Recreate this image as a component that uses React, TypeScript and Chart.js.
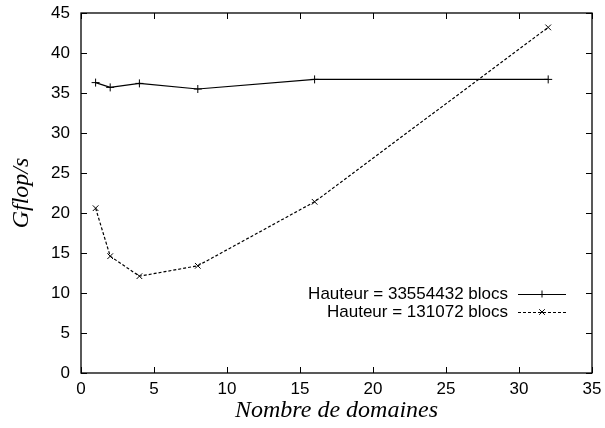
import React, { useEffect, useRef } from "react";
import { Chart, registerables } from "chart.js";

Chart.register(...registerables);

const domaines = [1, 2, 4, 8, 16, 32];
const hauteurGrande = [36.3, 35.7, 36.2, 35.5, 36.7, 36.7];
const hauteurPetite = [20.6, 14.6, 12.1, 13.4, 21.4, 43.2];
const labelGrande = "Hauteur = 33554432 blocs";
const labelPetite = "Hauteur = 131072 blocs";
const xTicks = [0, 5, 10, 15, 20, 25, 30, 35];
const yTicks = [0, 5, 10, 15, 20, 25, 30, 35, 40, 45];

const frame = {
  id: "frame",
  afterDatasetsDraw(chart: any) {
    const { ctx, chartArea: a, scales } = chart;
    ctx.save();
    ctx.strokeStyle = "#000";
    ctx.lineWidth = 1;
    ctx.setLineDash([]);
    ctx.beginPath();
    const L = 6;
    for (const v of xTicks) {
      const x = Math.round(scales.x.getPixelForValue(v)) + 0.5;
      ctx.moveTo(x, a.bottom);
      ctx.lineTo(x, a.bottom - L);
      ctx.moveTo(x, a.top);
      ctx.lineTo(x, a.top + L);
    }
    for (const v of yTicks) {
      const y = Math.round(scales.y.getPixelForValue(v)) + 0.5;
      ctx.moveTo(a.left, y);
      ctx.lineTo(a.left + L, y);
      ctx.moveTo(a.right, y);
      ctx.lineTo(a.right - L, y);
    }
    ctx.stroke();
    ctx.lineWidth = 1.3;
    ctx.strokeRect(a.left, a.top, a.right - a.left, a.bottom - a.top);

    // legend
    const ds = chart.data.datasets;
    const textRight = 508;
    const lineL = 518;
    const lineR = 566;
    const rows = [294, 312];
    ctx.font = "17px 'Liberation Sans', Arial, sans-serif";
    ctx.fillStyle = "#000";
    ctx.textAlign = "right";
    ctx.textBaseline = "middle";
    ds.forEach((d: any, i: number) => {
      const y = rows[i];
      ctx.fillText(d.label, textRight, y);
      ctx.lineWidth = 1;
      ctx.setLineDash(d.borderDash || []);
      ctx.beginPath();
      ctx.moveTo(lineL, y + 0.5);
      ctx.lineTo(lineR, y + 0.5);
      ctx.stroke();
      ctx.setLineDash([]);
      const cx = (lineL + lineR) / 2;
      const r = 3.5;
      ctx.beginPath();
      if (d.pointStyle === "cross") {
        ctx.moveTo(cx - r, y + 0.5);
        ctx.lineTo(cx + r, y + 0.5);
        ctx.moveTo(cx, y - r);
        ctx.lineTo(cx, y + r);
      } else {
        ctx.moveTo(cx - r * 0.8, y - r * 0.8);
        ctx.lineTo(cx + r * 0.8, y + r * 0.8);
        ctx.moveTo(cx - r * 0.8, y + r * 0.8);
        ctx.lineTo(cx + r * 0.8, y - r * 0.8);
      }
      ctx.stroke();
    });
    ctx.restore();
  },
};

export default function App() {
  const ref = useRef<HTMLCanvasElement>(null);
  useEffect(() => {
    if (!ref.current) return;
    const tickFont = { family: "'Liberation Sans', Arial, sans-serif", size: 17 };
    const titleFont = { family: "'Liberation Serif', 'Times New Roman', serif", size: 24, style: "italic" as const };
    const chart = new Chart(ref.current, {
      type: "line",
      data: {
        datasets: [
          {
            label: labelGrande,
            data: domaines.map((x, i) => ({ x, y: hauteurGrande[i] })),
            borderColor: "#000",
            backgroundColor: "#000",
            borderWidth: 1.2,
            pointStyle: "cross",
            pointRadius: 4,
            pointBorderWidth: 1,
            pointBorderColor: "#000",
            fill: false,
            tension: 0,
          },
          {
            label: labelPetite,
            data: domaines.map((x, i) => ({ x, y: hauteurPetite[i] })),
            borderColor: "#000",
            backgroundColor: "#000",
            borderWidth: 1.2,
            borderDash: [3, 2],
            pointStyle: "crossRot",
            pointRadius: 4,
            pointBorderWidth: 1,
            pointBorderColor: "#000",
            fill: false,
            tension: 0,
          },
        ],
      },
      options: {
        animation: false,
        responsive: false,
        maintainAspectRatio: false,
        layout: { padding: { top: 13, right: 13, left: 0, bottom: 0 } },
        plugins: { legend: { display: false }, tooltip: { enabled: false } },
        scales: {
          x: {
            type: "linear",
            min: 0,
            max: 35,
            afterFit: (s: any) => { s.height = 55; s.paddingLeft = 0; s.paddingRight = 0; },
            afterBuildTicks: (s: any) => { s.ticks = xTicks.map((v) => ({ value: v })); },
            grid: { display: false, drawTicks: false },
            border: { display: false },
            ticks: { font: tickFont, color: "#000", padding: 6, maxRotation: 0 },
            title: { display: true, text: "Nombre de domaines", font: titleFont, color: "#000", padding: { top: 0, bottom: 3 } },
          },
          y: {
            type: "linear",
            min: 0,
            max: 45,
            afterFit: (s: any) => { s.width = 81; s.paddingTop = 0; s.paddingBottom = 0; },
            afterBuildTicks: (s: any) => { s.ticks = yTicks.map((v) => ({ value: v })); },
            grid: { display: false, drawTicks: false },
            border: { display: false },
            ticks: { font: tickFont, color: "#000", padding: 11 },
            title: { display: true, text: "Gflop/s", font: titleFont, color: "#000", padding: { top: 7, bottom: 0 } },
          },
        },
      },
      plugins: [frame],
    });
    return () => chart.destroy();
  }, []);
  return (
    <div style={{ position: "fixed", left: 0, top: 0, width: 605, height: 428, background: "#fff" }}>
      <canvas ref={ref} width={605} height={428} style={{ width: 605, height: 428 }} />
    </div>
  );
}
